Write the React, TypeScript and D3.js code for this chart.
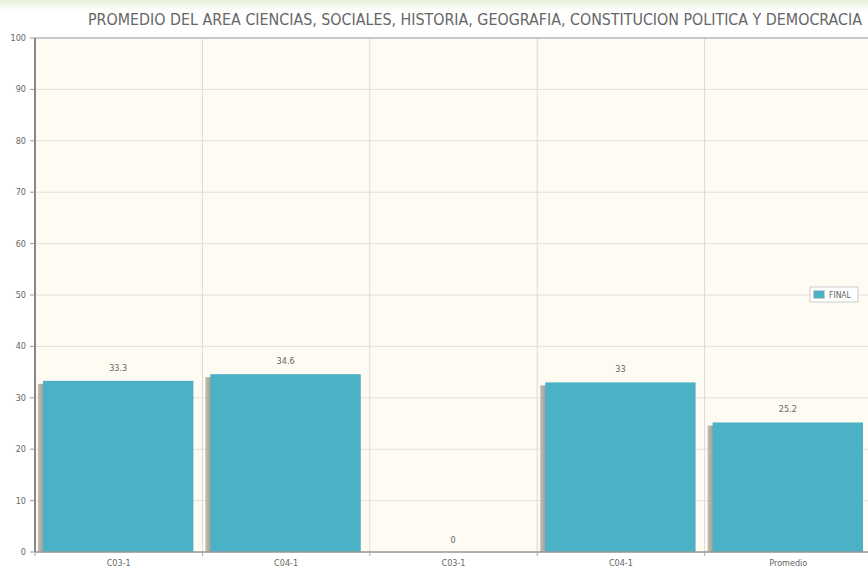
import React from 'react';
import * as d3 from 'd3';

const categories = ['C03-1', 'C04-1', 'C03-1', 'C04-1', 'Promedio'];
const finalValues = [33.3, 34.6, 0, 33, 25.2];
const yTicks = [0, 10, 20, 30, 40, 50, 60, 70, 80, 90, 100];
const seriesName = 'FINAL';
const title =
  'PROMEDIO DEL AREA CIENCIAS, SOCIALES, HISTORIA, GEOGRAFIA, CONSTITUCION POLITICA Y DEMOCRACIA';

const W = 868;
const H = 569;
const left = 35;
const top = 38;
const bottom = 552;
const right = 872;
const barColor = '#4bb2c5';
const font = '"DejaVu Sans Condensed", "DejaVu Sans", sans-serif';

const App = () => {
  const x = d3
    .scaleBand<number>()
    .domain(d3.range(categories.length))
    .range([left, right])
    .padding(0);
  const y = d3.scaleLinear().domain([0, 100]).range([bottom, top]);
  const step = x.step();
  const inset = 8;
  const bw = step - 17;

  return (
    <svg
      width={W}
      height={H}
      style={{ position: 'absolute', left: 0, top: 0, background: '#fff' }}
    >
      <defs>
        <linearGradient id="topfade" x1="0" y1="0" x2="0" y2="1">
          <stop offset="0" stopColor="#dfeecf" stopOpacity="0.9" />
          <stop offset="1" stopColor="#ffffff" stopOpacity="0" />
        </linearGradient>
        <linearGradient id="shadow" x1="0" y1="0" x2="1" y2="0">
          <stop offset="0" stopColor="#b9b4aa" />
          <stop offset="1" stopColor="#8f8a82" />
        </linearGradient>
      </defs>
      <rect x={0} y={0} width={W} height={16} fill="url(#topfade)" />
      <text
        x={475}
        y={25}
        textAnchor="middle"
        fontFamily={font}
        fontSize={15}
        fill="#666"
        textLength={774}
        lengthAdjust="spacingAndGlyphs"
      >
        {title}
      </text>

      <rect x={left} y={top} width={right - left} height={bottom - top} fill="#fefbf3" />

      {/* grid */}
      {yTicks.map((t) => (
        <line key={'g' + t} x1={left} x2={right} y1={y(t)} y2={y(t)} stroke="#e3e0d8" strokeWidth={1} />
      ))}
      {d3.range(1, categories.length).map((i) => (
        <line
          key={'v' + i}
          x1={x(i)!}
          x2={x(i)!}
          y1={top}
          y2={bottom}
          stroke="#dcd9d1"
          strokeWidth={1}
        />
      ))}
      <line x1={left} x2={right} y1={top} y2={top} stroke="#bbb" strokeWidth={1.5} />

      {/* bars */}
      {finalValues.map((v, i) => {
        const bx = x(i)! + inset;
        const by = y(v);
        const h = bottom - by;
        return (
          <g key={'b' + i}>
            {h > 0 && (
              <rect x={bx - 5} y={by + 3} width={6} height={h - 3} fill="url(#shadow)" opacity={0.85} />
            )}
            {h > 0 && <rect x={bx} y={by} width={bw} height={h} fill={barColor} />}
            <text
              x={bx + bw / 2}
              y={v === 0 ? by - 9 : by - 10}
              textAnchor="middle"
              fontFamily={font}
              fontSize={9}
              fill="#666"
            >
              {v}
            </text>
          </g>
        );
      })}

      {/* axes */}
      <line x1={left} x2={left} y1={top} y2={bottom} stroke="#888" strokeWidth={2} />
      <line x1={left} x2={right} y1={bottom} y2={bottom} stroke="#999" strokeWidth={1.5} />
      {yTicks.map((t) => (
        <g key={'yt' + t}>
          <line x1={left - 5} x2={left} y1={y(t)} y2={y(t)} stroke="#999" />
          <text
            x={left - 9}
            y={y(t) + 3}
            textAnchor="end"
            fontFamily={font}
            fontSize={9}
            fill="#666"
          >
            {t}
          </text>
        </g>
      ))}
      {d3.range(0, categories.length).map((i) => (
        <line key={'xt' + i} x1={x(i)!} x2={x(i)!} y1={bottom} y2={bottom + 4} stroke="#aaa" />
      ))}
      {categories.map((c, i) => (
        <text
          key={'xl' + i}
          x={x(i)! + step / 2}
          y={566}
          textAnchor="middle"
          fontFamily={font}
          fontSize={9}
          fill="#666"
        >
          {c}
        </text>
      ))}

      {/* legend */}
      <g>
        <rect x={810} y={287} width={48} height={15} fill="#fff" stroke="#ccc" strokeWidth={1} />
        <rect x={813.5} y={290.5} width={11} height={8} fill={barColor} stroke="#ccc" strokeWidth={1} />
        <text x={829} y={298} fontFamily={font} fontSize={8.5} fill="#666">
          {seriesName}
        </text>
      </g>
    </svg>
  );
};

export default App;
